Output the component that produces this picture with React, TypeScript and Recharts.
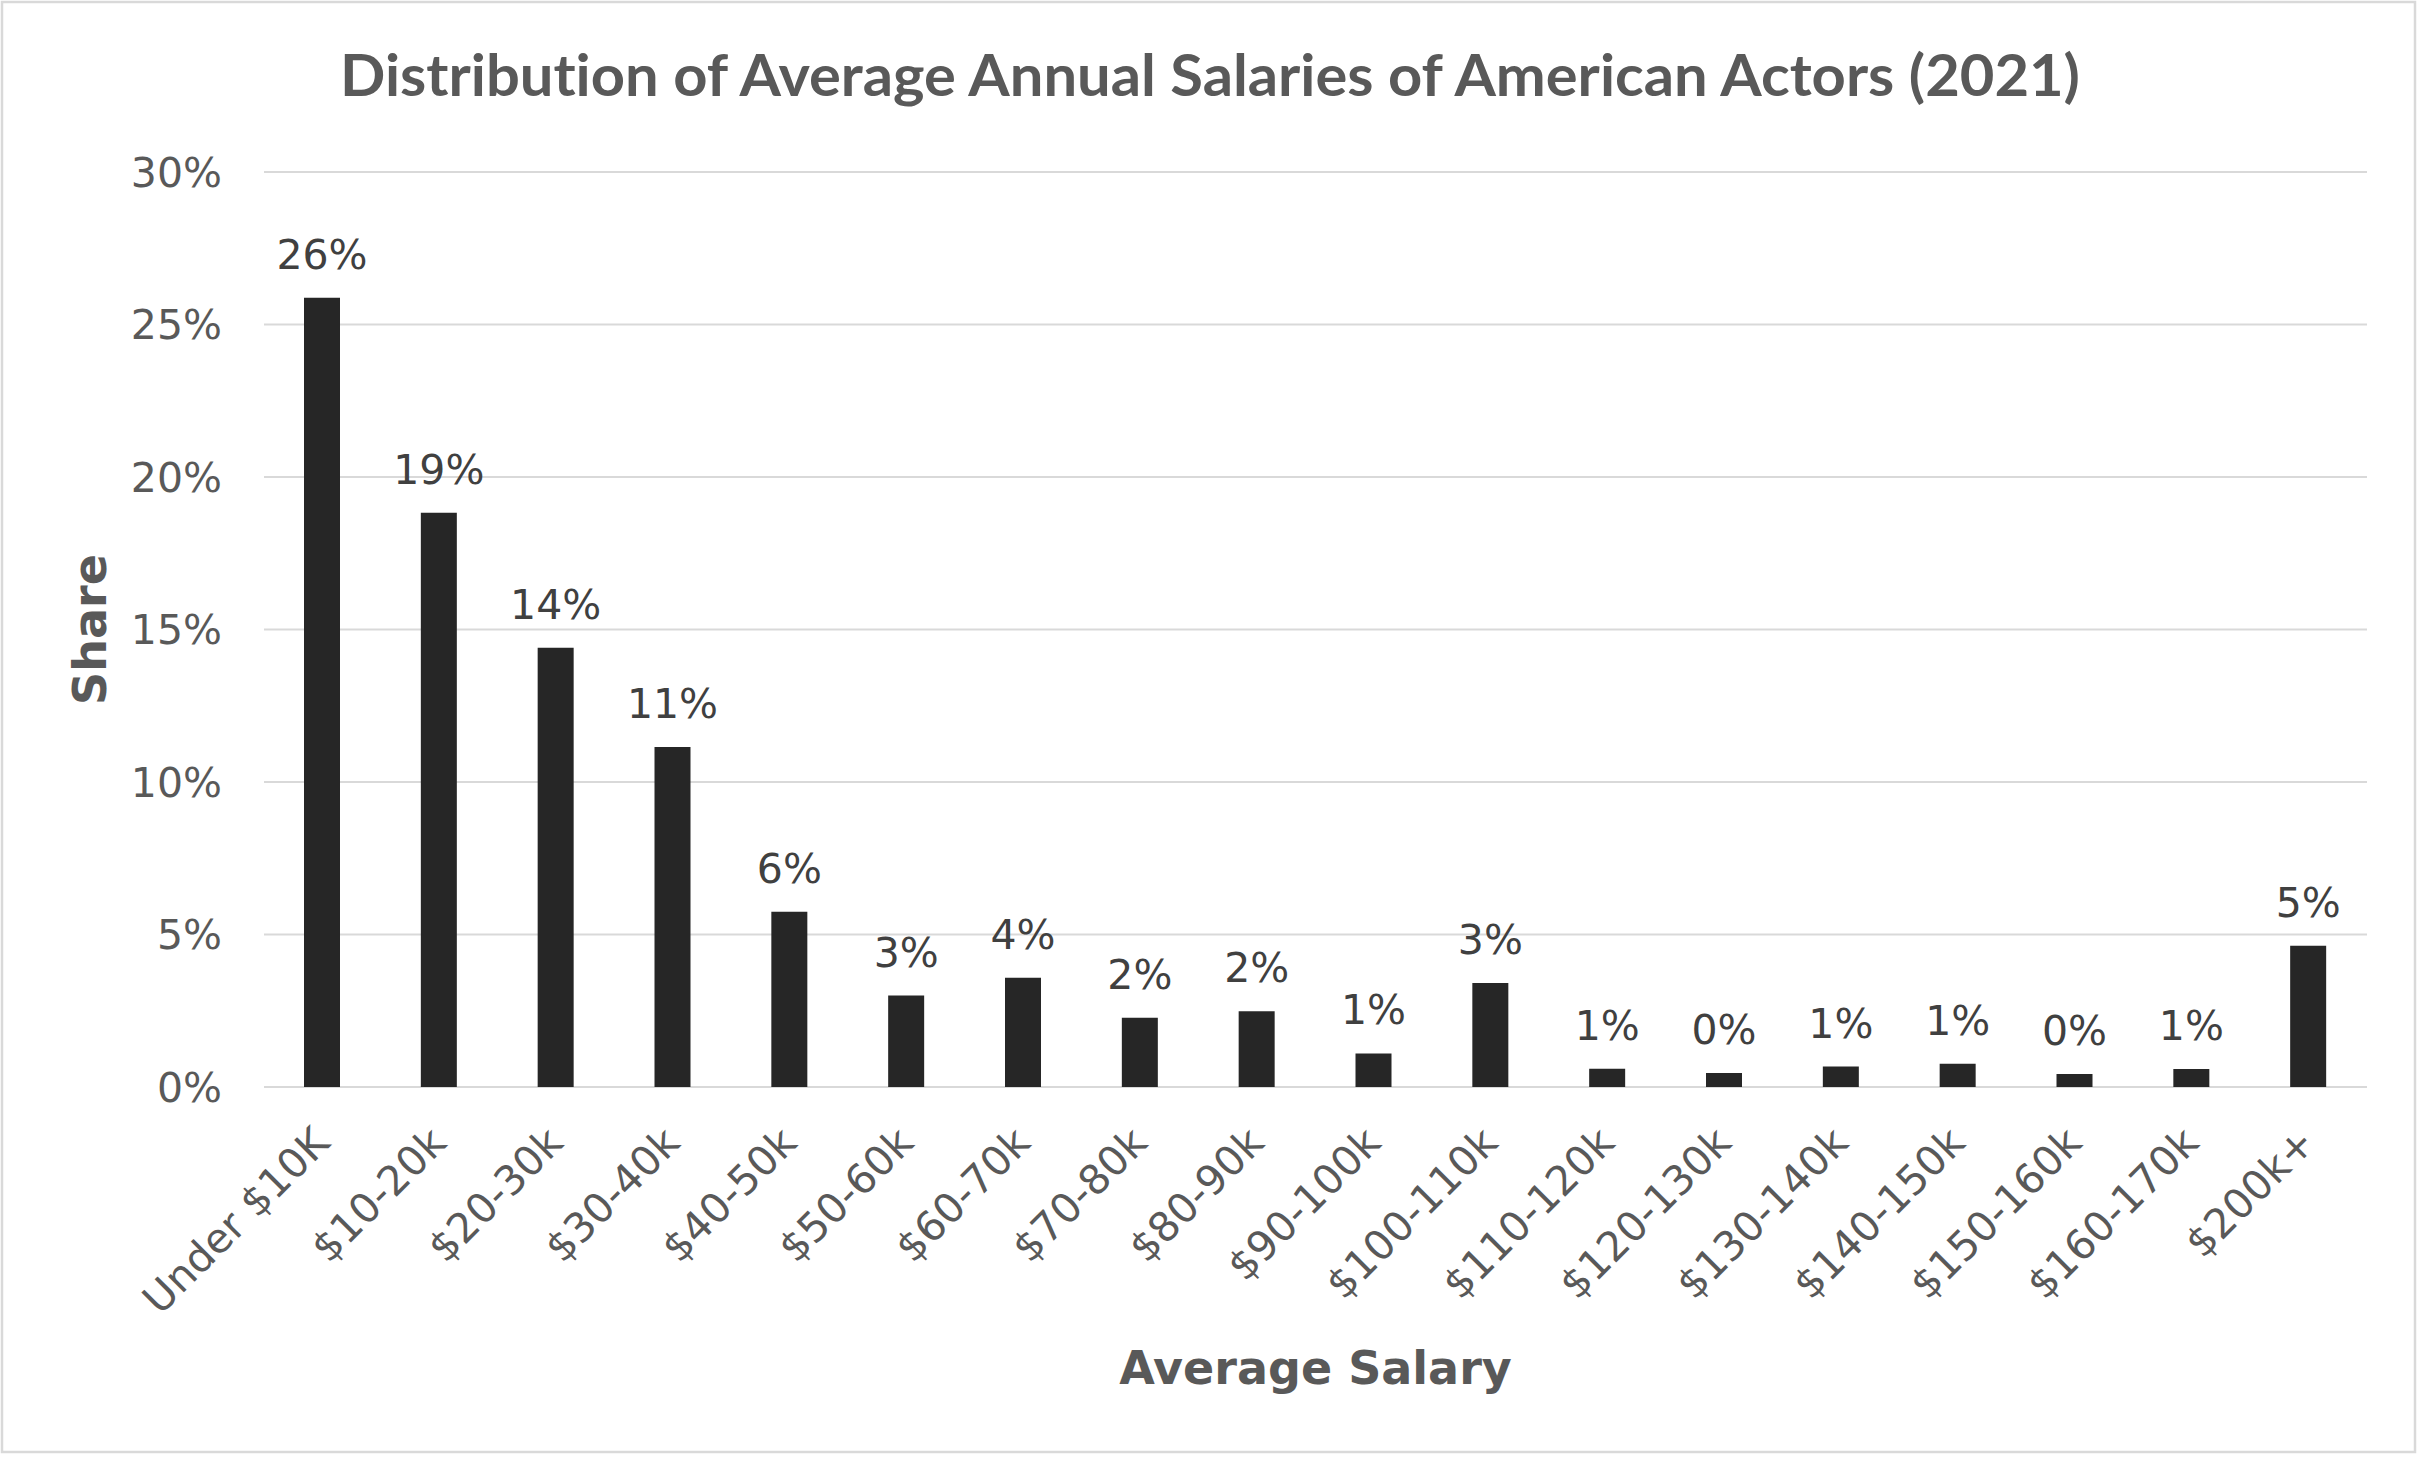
import React from 'react';
import { BarChart, Bar, XAxis, YAxis, CartesianGrid, LabelList, Label } from 'recharts';

const categories = [
  'Under $10K', '$10-20k', '$20-30k', '$30-40k', '$40-50k', '$50-60k', '$60-70k', '$70-80k', '$80-90k',
  '$90-100k', '$100-110k', '$110-120k', '$120-130k', '$130-140k', '$140-150k', '$150-160k', '$160-170k', '$200k+',
];
const shares = [25.88, 18.83, 14.4, 11.15, 5.75, 3.0, 3.58, 2.27, 2.48, 1.1, 3.41, 0.6, 0.46, 0.67, 0.76, 0.43, 0.59, 4.63];
const yTicks = [0, 5, 10, 15, 20, 25, 30];
const title = 'Distribution of Average Annual Salaries of American Actors (2021)';
const xTitle = 'Average Salary';
const yTitle = 'Share';

const data = categories.map((c, i) => ({ cat: c, value: shares[i] }));

const W = 2420;
const H = 1462;
const FONT = '"DejaVu Sans", Verdana, sans-serif';

const XTick = (props: any) => {
  const { x, y, payload } = props;
  return (
    <g transform={`translate(${x + 9},${y + 58})`}>
      <text x={0} y={0} textAnchor="end" transform="rotate(-45)" fill="#595959" fontSize={41} fontFamily={FONT}>
        {payload.value}
      </text>
    </g>
  );
};

const YTitle = (props: any) => {
  const vb = props.viewBox || {};
  const cy = vb.y + vb.height / 2;
  return (
    <text x={106} y={cy} transform={`rotate(-90, 106, ${cy})`} textAnchor="middle" fill="#595959" fontSize={46} fontWeight="bold" fontFamily={FONT}>
      {yTitle}
    </text>
  );
};

const XTitle = (props: any) => {
  const vb = props.viewBox || {};
  const cx = vb.x + vb.width / 2;
  return (
    <text x={cx} y={1384} textAnchor="middle" fill="#595959" fontSize={46} fontWeight="bold" fontFamily={FONT}>
      {xTitle}
    </text>
  );
};

export default function App() {
  return (
    <div style={{ position: 'absolute', left: 0, top: 0, width: W, height: H, background: '#ffffff' }}>
      <BarChart width={W} height={H} data={data} margin={{ top: 172, right: 53, bottom: 0, left: 0 }}>
        <CartesianGrid vertical={false} stroke="#d9d9d9" strokeWidth={2} />
        <YAxis
          type="number"
          domain={[0, 30]}
          ticks={yTicks}
          width={264}
          axisLine={false}
          tickLine={false}
          tickSize={0}
          tickMargin={42}
          tickFormatter={(v: number) => `${v}%`}
          tick={{ fill: '#595959', fontSize: 41, fontFamily: FONT }}
        >
          <Label content={<YTitle />} />
        </YAxis>
        <XAxis
          dataKey="cat"
          interval={0}
          height={375}
          axisLine={false}
          tickLine={false}
          tickSize={0}
          tickMargin={0}
          tick={<XTick />}
        >
          <Label content={<XTitle />} />
        </XAxis>
        <Bar dataKey="value" fill="#262626" barSize={36} isAnimationActive={false}>
          <LabelList
            dataKey="value"
            position="top"
            offset={29}
            formatter={(v: any) => `${Math.round(Number(v))}%`}
            fill="#404040"
            fontSize={41}
            fontFamily={FONT}
          />
        </Bar>
      </BarChart>
      <svg width={W} height={H} style={{ position: 'absolute', left: 0, top: 0, pointerEvents: 'none' }}>
        <rect x={2} y={2} width={2413} height={1450} fill="none" stroke="#d9d9d9" strokeWidth={2.5} />
        <text
          x={1210}
          y={96}
          textAnchor="middle"
          fill="#595959"
          fontSize={57}
          fontWeight="bold"
          fontFamily="Lato, 'Open Sans', sans-serif"
          textLength={1740}
          lengthAdjust="spacingAndGlyphs"
          style={{ fontVariantLigatures: 'none', fontFeatureSettings: '"liga" 0, "clig" 0' }}
        >
          {title}
        </text>
      </svg>
    </div>
  );
}
